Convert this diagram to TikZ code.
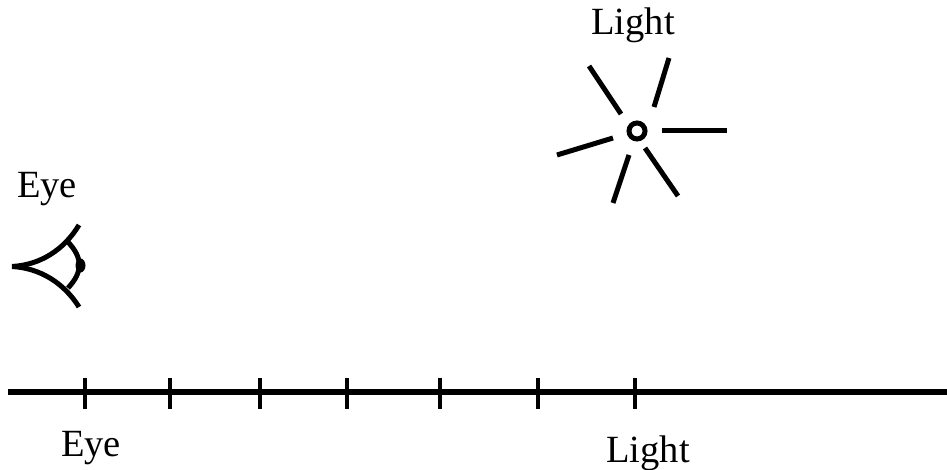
\documentclass[tikz,border=0pt]{standalone}
\usepackage{fontspec}
\setmainfont{Liberation Serif}
\tikzset{
  lbl/.style={anchor=base,inner sep=0pt,font=\fontsize{38.5}{40}\selectfont,text=black},
  eyeline/.style={line width=5pt,black},
  ray/.style={line width=5pt,black},
  axisline/.style={line width=5.2pt,black},
  tickmark/.style={line width=3.4pt,black}
}
\begin{document}
\begin{tikzpicture}[x=1pt,y=-1pt]
\useasboundingbox (0,0) rectangle (947,470);
% labels
\node[lbl] (eyetop) at (47,198) {Eye};
\node[lbl] (lighttop) at (633,35) {Light};
\node[lbl] (eyebot) at (91,456) {Eye};
\node[lbl] (lightbot) at (648,462) {Light};
% eye
\draw[eyeline] (12,266.5) .. controls (40,265) and (64,250) .. (79,225);
\draw[eyeline] (12,266.5) .. controls (40,268) and (64,283) .. (79,307);
\draw[eyeline] (68,242) .. controls (83,258) and (83,272) .. (68,288);
\fill[black] (80.5,265.5) ellipse (5 and 7);
% light
\draw[line width=5pt,black] (637,131) circle (8);
\draw[ray] (589,66) -- (621,114);
\draw[ray] (669,58) -- (654,107);
\draw[ray] (662,131) -- (727,131);
\draw[ray] (645,148) -- (678,196);
\draw[ray] (629,155) -- (613,203);
\draw[ray] (613,138) -- (557,155);
% axis
\draw[axisline] (8,392) -- (947,392);
\foreach \x in {85,170,260,347,440,538,635}
  \draw[tickmark] (\x,378) -- (\x,409);
\end{tikzpicture}
\end{document}
